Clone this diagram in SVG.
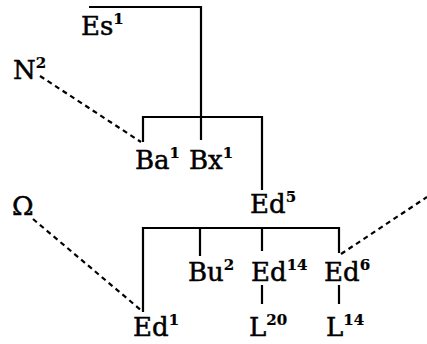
<svg xmlns="http://www.w3.org/2000/svg" width="427" height="344" viewBox="0 0 427 344">
<style>
.l{stroke:#000;stroke-width:2.2;fill:none}
.d{stroke:#000;stroke-width:2.2;fill:none;stroke-dasharray:5 4}
text{font-family:"DejaVu Serif",serif;font-size:26px;fill:#000;stroke:#000;stroke-width:0.5}
.s{font-size:15px;font-weight:bold;stroke-width:0.2}
</style>
<rect width="427" height="344" fill="#fff"/>
<g id="connectors">
<path class="l" d="M89 7H201V140"/>
<path class="l" d="M143 142V117H262V190"/>
<path class="l" d="M143 312V228H339V253"/>
<path class="l" d="M200 228V256"/>
<path class="l" d="M262 228V251"/>
<path class="l" d="M262 285V304"/>
<path class="l" d="M339 285V304"/>
<path class="d" d="M40 76L141 142"/>
<path class="d" d="M33 219L142 311"/>
<path class="d" d="M341 254L427 197"/>
</g>
<g id="Es1"><text x="81" y="35">Es<tspan class="s" dy="-11">1</tspan></text></g>
<g id="N2"><text x="13" y="79">N<tspan class="s" dy="-11">2</tspan></text></g>
<g id="Ba1"><text x="135" y="169">Ba<tspan class="s" dy="-11">1</tspan></text></g>
<g id="Bx1"><text x="189" y="169">Bx<tspan class="s" dy="-11">1</tspan></text></g>
<g id="Ed5"><text x="250" y="213">Ed<tspan class="s" dy="-11">5</tspan></text></g>
<g id="Omega"><text x="12" y="215">Ω</text></g>
<g id="Bu2"><text x="188" y="281">Bu<tspan class="s" dy="-11">2</tspan></text></g>
<g id="Ed14"><text x="251" y="281">Ed<tspan class="s" dy="-11">14</tspan></text></g>
<g id="Ed6"><text x="324" y="281">Ed<tspan class="s" dy="-11">6</tspan></text></g>
<g id="Ed1"><text x="133" y="336">Ed<tspan class="s" dy="-11">1</tspan></text></g>
<g id="L20"><text x="249" y="336">L<tspan class="s" dy="-11">20</tspan></text></g>
<g id="L14"><text x="326" y="336">L<tspan class="s" dy="-11">14</tspan></text></g>
</svg>
